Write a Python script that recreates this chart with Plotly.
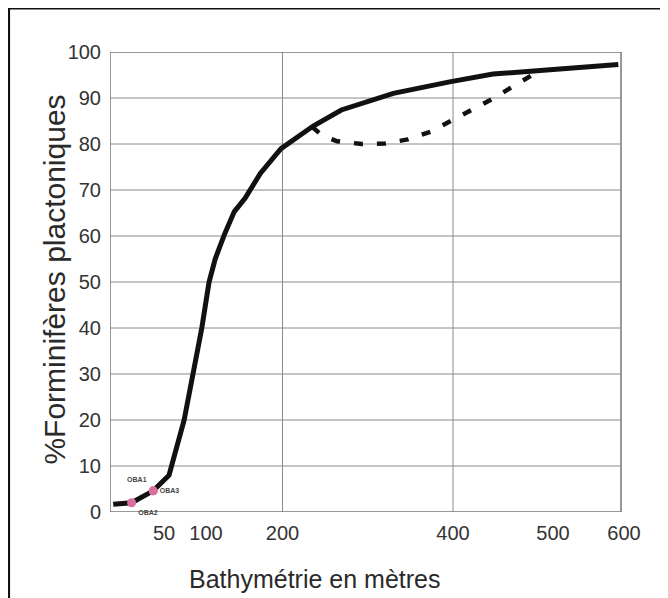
import numpy as np
import plotly.graph_objects as go

# ---------------- data ----------------
DEPTH_SOLID = [3, 20, 40, 56, 74, 85, 95, 104, 112, 124, 137, 151, 171, 198,
               236, 269, 330, 396, 440, 484, 592]
PCT_SOLID = [1.7, 2.0, 4.6, 8.0, 20.0, 30.0, 40.0, 50.0, 55.0, 60.3, 65.3, 68.2,
             73.6, 79.0, 83.9, 87.4, 91.0, 93.5, 95.2, 95.9, 97.3]

DEPTH_DASH = [235, 246, 264, 293, 320, 347, 374, 399, 421, 442, 462, 484]
PCT_DASH = [83.7, 81.9, 80.6, 80.0, 80.1, 81.0, 82.7, 85.2, 87.6, 90.1, 92.8, 95.6]

SAMPLE_NAMES = ["OBA1", "OBA3", "OBA2"]
SAMPLE_DEPTH = [40, 40, 20]
SAMPLE_PCT = [4.6, 4.6, 2.0]

X_TICK_M = [50, 100, 200, 400, 500, 600]
X_GRID_M = [200, 400]
Y_TICKS = [0, 10, 20, 30, 40, 50, 60, 70, 80, 90, 100]

# ---------------- hand-drawn depth scale of the original ----------------
SCALE_M = [0, 50, 100, 200, 400, 500, 600]
SCALE_POS = [110, 164, 206, 282.5, 453, 553, 624]
X_LEFT, X_RIGHT, X_RANGE_END = 110, 621, 640


def to_pos(m):
    return np.interp(np.asarray(m, dtype=float), SCALE_M, SCALE_POS)


FONT = "Liberation Sans, Arial, sans-serif"
GRID_COL = "#8a8a8a"

fig = go.Figure()
fig.add_trace(go.Scatter(
    x=to_pos(DEPTH_SOLID), y=PCT_SOLID, mode="lines",
    line=dict(color="#111111", width=5), showlegend=False, hoverinfo="skip"))
fig.add_trace(go.Scatter(
    x=to_pos(DEPTH_DASH), y=PCT_DASH, mode="lines",
    line=dict(color="#111111", width=4.5, dash="9px,14px"),
    showlegend=False, hoverinfo="skip"))
fig.add_trace(go.Scatter(
    x=to_pos(SAMPLE_DEPTH), y=SAMPLE_PCT, mode="markers+text",
    marker=dict(color="#d8709f", size=9),
    text=SAMPLE_NAMES,
    textposition=["top left", "middle right", "bottom right"],
    textfont=dict(size=7, color="#444444", family=FONT, weight="bold"),
    cliponaxis=False, showlegend=False, hoverinfo="skip"))

shapes = []
for v in Y_TICKS[1:-1]:
    shapes.append(dict(type="line", xref="x", yref="y", x0=X_LEFT, x1=X_RIGHT,
                       y0=v, y1=v, line=dict(color=GRID_COL, width=1), layer="below"))
for p in to_pos(X_GRID_M):
    shapes.append(dict(type="line", xref="x", yref="y", x0=p, x1=p,
                       y0=Y_TICKS[0], y1=Y_TICKS[-1],
                       line=dict(color=GRID_COL, width=1), layer="below"))
shapes.append(dict(type="rect", xref="x", yref="y", x0=X_LEFT, x1=X_RIGHT,
                   y0=Y_TICKS[0], y1=Y_TICKS[-1],
                   line=dict(color="#777777", width=1.5), layer="below"))
# outer frame of the figure (partly cut by the picture edge)
shapes.append(dict(type="rect", xref="paper", yref="paper",
                   x0=-0.1906, x1=1.12, y0=-0.25, y1=1.0946,
                   line=dict(color="#111111", width=2.2)))

fig.update_layout(
    width=668, height=598,
    margin=dict(l=102, r=36, t=44, b=94),
    paper_bgcolor="white", plot_bgcolor="white",
    shapes=shapes,
    xaxis=dict(range=[X_LEFT, X_RANGE_END], tickvals=to_pos(X_TICK_M),
               ticktext=[str(t) for t in X_TICK_M], showgrid=False,
               zeroline=False, showline=False, ticks="outside", ticklen=3,
               tickcolor="rgba(0,0,0,0)",
               tickfont=dict(size=20, color="#333333", family=FONT)),
    yaxis=dict(range=[Y_TICKS[0], Y_TICKS[-1]], tickvals=Y_TICKS,
               showgrid=False, zeroline=False, showline=False,
               ticks="outside", ticklen=4, tickcolor="rgba(0,0,0,0)",
               tickfont=dict(size=20, color="#333333", family=FONT)),
    annotations=[
        dict(text="Bathymétrie en mètres", xref="x", yref="paper",
             x=315, y=-0.146, showarrow=False, xanchor="center", yanchor="middle",
             font=dict(size=25, color="#2a2a2a", family=FONT)),
        dict(text="%Forminifères plactoniques", xref="paper", yref="paper",
             x=-0.104, y=0.505, textangle=-90, showarrow=False,
             xanchor="center", yanchor="middle",
             font=dict(size=30, color="#2a2a2a", family=FONT)),
    ],
)

fig.write_html("out.html")
